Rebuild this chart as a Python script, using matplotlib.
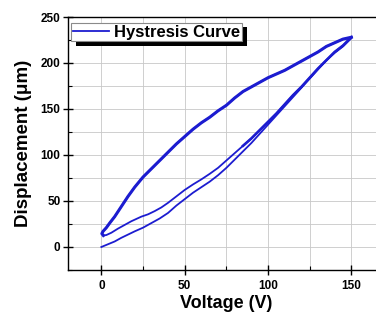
import matplotlib
matplotlib.use("Agg")
import matplotlib.pyplot as plt
import matplotlib.patheffects as pe
from matplotlib.ticker import MultipleLocator
import numpy as np

# ── Data ─────────────────────────────────────────────────────────────────────
# first ascending branch, starting at 0 V / 0 um
asc1_v = [0, 4, 8, 12, 16, 20, 25, 30, 35, 40, 45, 50, 55, 60, 65, 70, 75, 80,
          85, 90, 95, 100, 105, 110, 115, 120, 125, 130, 135, 140, 145, 150]
asc1_d = [0, 3, 6, 10, 13.5, 17, 21, 26, 31, 37, 45, 52, 59, 65, 71, 78, 86, 95,
          104, 113, 123, 133, 143, 153, 163, 173, 183, 193, 203, 211, 218, 227]

# descending branch (upper part of the loop)
desc_v = [150, 145, 140, 135, 130, 125, 120, 115, 110, 105, 100, 95, 90, 85, 80,
          75, 70, 65, 60, 55, 50, 45, 40, 35, 30, 25, 20, 16, 12, 8, 5, 3, 1,
          0.3, 1.2]
desc_d = [228, 226, 222, 218, 212, 207, 202, 197, 192, 188, 184, 179, 174, 169,
          162, 154, 148, 141, 135, 128, 120, 112, 103, 94, 85, 76, 65, 55, 44,
          33, 26, 21, 17, 14.5, 12.5]

# second ascending branch, starting from the hook near 0 V
asc2_v = [1.2, 3, 6, 10, 14, 18, 24, 28, 32, 36, 40, 45, 50, 55, 60, 65, 70, 75,
          80, 85, 90, 95, 100, 105, 110, 115, 120, 125, 130, 135, 140, 145, 150]
asc2_d = [12.5, 13, 15.5, 20, 24, 28, 33, 35.5, 39, 43, 48, 55, 62, 68, 73.5,
          79.5, 86, 94, 102, 110, 118, 127, 136, 145, 155, 165, 174, 184, 194,
          203, 212, 219, 228]

x_ticks = [0, 50, 100, 150]
y_ticks = [0, 50, 100, 150, 200, 250]

# ── Style ─────────────────────────────────────────────────────────────────────
plt.rcParams.update({
    "font.family": ["Liberation Sans", "DejaVu Sans"],
    "font.weight": "bold",
    "axes.linewidth": 1.0,
})
BLUE = "#1c1cd0"

fig = plt.figure(figsize=(3.76, 3.16), dpi=100)
ax = fig.add_axes([0.1809, 0.1456, 0.8422, 0.8006])

ax.plot(asc1_v + desc_v[1:] + asc2_v[1:], asc1_d + desc_d[1:] + asc2_d[1:],
        color=BLUE, lw=1.3, label="Hystresis Curve", zorder=3)
ax.plot(desc_v, desc_d, color=BLUE, lw=2.2, zorder=3)
ax.plot(asc2_v[-14:], asc2_d[-14:], color=BLUE, lw=1.9, zorder=3)

ax.set_xlim(-20, 170)
ax.set_ylim(-25, 250)
ax.set_xticks(x_ticks)
ax.set_yticks(y_ticks)
ax.xaxis.set_minor_locator(MultipleLocator(25))
ax.yaxis.set_minor_locator(MultipleLocator(25))
ax.grid(True, which="both", color="#c8c8c8", lw=0.6, zorder=0)
ax.set_axisbelow(True)
ax.spines["right"].set_visible(False)

ax.tick_params(which="major", direction="inout", length=7, width=1.0,
               labelsize=8.5, top=False, right=False)
ax.tick_params(axis="x", which="major", pad=4)
ax.tick_params(axis="y", which="major", pad=2)
ax.tick_params(which="minor", direction="in", length=3, width=0.8,
               top=False, right=False)
for lab in ax.get_xticklabels() + ax.get_yticklabels():
    lab.set_fontweight("bold")

ax.set_xlabel("Voltage (V)", fontsize=13, fontweight="bold", labelpad=2)
ax.set_ylabel("Displacement (\u03bcm)", fontsize=13.5, fontweight="bold", labelpad=6)

leg = ax.legend(loc="upper left", bbox_to_anchor=(0.0095, 0.976),
                borderaxespad=0, fancybox=False, framealpha=1,
                edgecolor="#8a8a8a", handlelength=2.2,
                handletextpad=0.3, borderpad=0.1,
                prop={"weight": "bold", "size": 12})
leg.get_frame().set_linewidth(0.8)
leg.get_frame().set_path_effects([
    pe.SimplePatchShadow(offset=(3.5, -3), shadow_rgbFace="black", alpha=1),
    pe.Normal()])

fig.savefig("out.png", dpi=100)
